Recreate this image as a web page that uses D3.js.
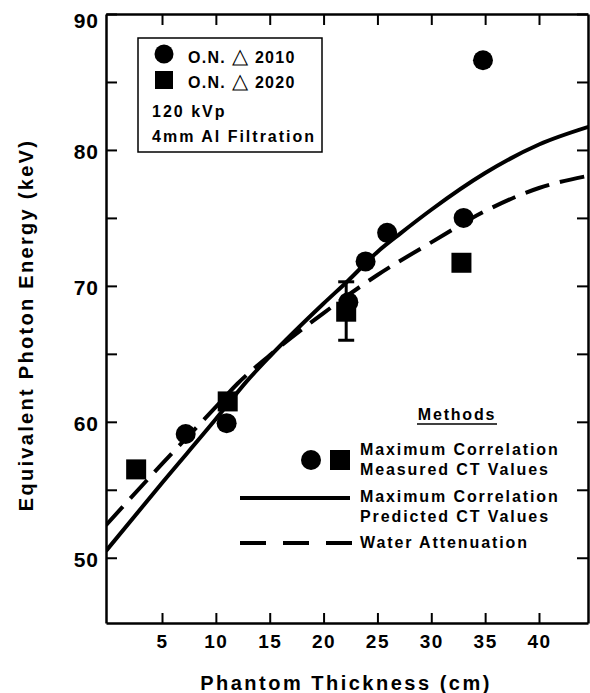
<!DOCTYPE html>
<html>
<head>
<meta charset="utf-8">
<script src="https://cdn.jsdelivr.net/npm/d3@7"></script>
<style>
  body { margin: 0; background: #fff; }
  text { font-family: "Liberation Sans", Arial, Helvetica, sans-serif; font-weight: bold; fill: #000; }
</style>
</head>
<body>
<div id="chart"></div>
<script>
// measured points
const circleX = [7.2, 11.0, 22.3, 23.9, 25.9, 33.0, 34.8];
const circleY = [59.1, 59.9, 68.8, 71.8, 73.9, 75.0, 86.6];
const squareX = [2.6, 11.1, 22.1, 32.8];
const squareY = [56.5, 61.5, 68.1, 71.7];
// error bar on the 22 cm square
const errX = [22.1];
const errLow = [66.0];
const errHigh = [70.3];

// max correlation, predicted CT values (solid)
const solidX = [-0.2, 5, 10, 13, 15, 20, 22.3, 25, 27.2, 30, 35, 40, 44.6];
const solidY = [50.5, 55.5, 60.2, 63.1, 64.8, 68.7, 70.4, 72.5, 73.9, 75.6, 78.3, 80.4, 81.7];
// water attenuation (dashed)
const dashX = [-0.2, 5, 10, 12, 15, 20, 25, 30, 35, 40, 44.6];
const dashY = [52.4, 56.9, 61.1, 62.8, 64.9, 68.0, 70.8, 73.2, 75.5, 77.2, 78.1];

const xTicks = [5, 10, 15, 20, 25, 30, 35, 40];
const yTicks = [50, 55, 60, 65, 70, 75, 80, 85, 90];

function drawChart() {
    const W = 590, H = 693;
    const left = 106, right = 588, top = 14, bottom = 623;

    const svg = d3.select("#chart")
        .append("svg")
        .attr("width", W)
        .attr("height", H);

    const x = d3.scaleLinear().domain([-0.2, 44.55]).range([left, right]);
    const y = d3.scaleLinear().domain([90, 45.2]).range([top, bottom]);

    svg.append("clipPath").attr("id", "plotClip")
        .append("rect")
        .attr("x", left).attr("y", top)
        .attr("width", right - left).attr("height", bottom - top);

    // axes, all ticks pointing inward
    const gLeft = svg.append("g")
        .attr("transform", `translate(${left},0)`)
        .call(d3.axisLeft(y).tickValues(yTicks).tickSizeInner(-11).tickSizeOuter(0).tickPadding(7)
            .tickFormat(d => d % 10 === 0 ? d : ""));
    gLeft.selectAll("text")
        .attr("font-size", 21)
        .attr("font-family", null)
        .style("letter-spacing", "1px")
        .attr("dy", d => d === 90 ? "0.66em" : "0.43em");

    const gBottom = svg.append("g")
        .attr("transform", `translate(0,${bottom})`)
        .call(d3.axisBottom(x).tickValues(xTicks).tickSizeInner(-10).tickSizeOuter(0).tickPadding(12));
    gBottom.selectAll("text")
        .attr("font-size", 19)
        .attr("font-family", null)
        .style("letter-spacing", "1.5px");

    svg.append("g")
        .attr("transform", `translate(0,${top})`)
        .call(d3.axisTop(x).tickValues(xTicks).tickSizeInner(-11).tickSizeOuter(0).tickFormat(""));

    svg.append("g")
        .attr("transform", `translate(${right},0)`)
        .call(d3.axisRight(y).tickValues(yTicks).tickSizeInner(-11).tickSizeOuter(0).tickFormat(""));

    svg.selectAll(".domain").attr("stroke", "#000").attr("stroke-width", 2.5);
    svg.selectAll(".tick line").attr("stroke", "#000").attr("stroke-width", 2);

    // curves
    const line = d3.line().x(d => x(d[0])).y(d => y(d[1])).curve(d3.curveMonotoneX);
    const plot = svg.append("g").attr("clip-path", "url(#plotClip)");

    plot.append("path")
        .datum(solidX.map((v, i) => [v, solidY[i]]))
        .attr("d", line)
        .attr("fill", "none")
        .attr("stroke", "#000")
        .attr("stroke-width", 4);

    plot.append("path")
        .datum(dashX.map((v, i) => [v, dashY[i]]))
        .attr("d", line)
        .attr("fill", "none")
        .attr("stroke", "#000")
        .attr("stroke-width", 4)
        .attr("stroke-dasharray", "25,11");

    // error bar
    errX.forEach((v, i) => {
        const cx = x(v);
        plot.append("line")
            .attr("x1", cx).attr("x2", cx)
            .attr("y1", y(errLow[i])).attr("y2", y(errHigh[i]))
            .attr("stroke", "#000").attr("stroke-width", 3);
        [errLow[i], errHigh[i]].forEach(e => {
            plot.append("line")
                .attr("x1", cx - 8).attr("x2", cx + 8)
                .attr("y1", y(e)).attr("y2", y(e))
                .attr("stroke", "#000").attr("stroke-width", 3);
        });
    });

    // markers
    plot.selectAll(".sq")
        .data(squareX.map((v, i) => [v, squareY[i]]))
        .join("rect")
        .attr("class", "sq")
        .attr("x", d => x(d[0]) - 10)
        .attr("y", d => y(d[1]) - 10)
        .attr("width", 20)
        .attr("height", 20)
        .attr("fill", "#000");

    plot.selectAll(".circ")
        .data(circleX.map((v, i) => [v, circleY[i]]))
        .join("circle")
        .attr("class", "circ")
        .attr("cx", d => x(d[0]))
        .attr("cy", d => y(d[1]))
        .attr("r", 10)
        .attr("fill", "#000");

    // top-left legend box
    svg.append("rect")
        .attr("x", 138).attr("y", 38)
        .attr("width", 184).attr("height", 114)
        .attr("fill", "#fff")
        .attr("stroke", "#000")
        .attr("stroke-width", 1.5);
    svg.append("circle").attr("cx", 164).attr("cy", 54).attr("r", 9.5).attr("fill", "#000");
    svg.append("rect").attr("x", 155).attr("y", 71).attr("width", 18).attr("height", 18).attr("fill", "#000");

    const seriesText = [
        {a: "O.N. ", b: "\u25B3", c: " 2010", y: 63},
        {a: "O.N. ", b: "\u25B3", c: " 2020", y: 88}
    ];
    const st = svg.selectAll(".seriesText")
        .data(seriesText)
        .join("text")
        .attr("class", "seriesText")
        .attr("x", 188)
        .attr("y", d => d.y)
        .attr("font-size", 16)
        .style("letter-spacing", "1.3px");
    st.append("tspan").text(d => d.a);
    st.append("tspan").attr("font-size", 21).attr("font-weight", "normal").text(d => d.b);
    st.append("tspan").text(d => d.c);

    const boxText = [
        {t: "120 kVp", y: 117},
        {t: "4mm Al Filtration", y: 142}
    ];
    svg.selectAll(".boxText")
        .data(boxText)
        .join("text")
        .attr("class", "boxText")
        .attr("x", 152)
        .attr("y", d => d.y)
        .attr("font-size", 16)
        .style("letter-spacing", "2px")
        .text(d => d.t);

    // methods legend
    svg.append("text")
        .attr("x", 457).attr("y", 420)
        .attr("text-anchor", "middle")
        .attr("font-size", 16)
        .style("letter-spacing", "1.8px")
        .text("Methods");
    svg.append("line")
        .attr("x1", 417).attr("x2", 497)
        .attr("y1", 424).attr("y2", 424)
        .attr("stroke", "#000").attr("stroke-width", 1.5);

    svg.append("circle").attr("cx", 311).attr("cy", 460).attr("r", 10).attr("fill", "#000");
    svg.append("rect").attr("x", 330).attr("y", 450).attr("width", 20).attr("height", 20).attr("fill", "#000");
    svg.append("line")
        .attr("x1", 240).attr("x2", 350).attr("y1", 498).attr("y2", 498)
        .attr("stroke", "#000").attr("stroke-width", 4);
    svg.append("line")
        .attr("x1", 240).attr("x2", 353).attr("y1", 543).attr("y2", 543)
        .attr("stroke", "#000").attr("stroke-width", 4)
        .attr("stroke-dasharray", "26,17");

    const methodText = [
        {t: "Maximum Correlation", y: 455},
        {t: "Measured CT Values", y: 475},
        {t: "Maximum Correlation", y: 502},
        {t: "Predicted CT Values", y: 522},
        {t: "Water Attenuation", y: 548}
    ];
    svg.selectAll(".methodText")
        .data(methodText)
        .join("text")
        .attr("class", "methodText")
        .attr("x", 360)
        .attr("y", d => d.y)
        .attr("font-size", 16)
        .style("letter-spacing", "1.9px")
        .text(d => d.t);

    // axis titles
    svg.append("text")
        .attr("x", 346)
        .attr("y", 690)
        .attr("text-anchor", "middle")
        .attr("font-size", 20)
        .style("letter-spacing", "2.5px")
        .text("Phantom Thickness (cm)");

    svg.append("text")
        .attr("transform", "translate(33,325) rotate(-90)")
        .attr("text-anchor", "middle")
        .attr("font-size", 20)
        .style("letter-spacing", "2.3px")
        .text("Equivalent Photon Energy (keV)");
}

drawChart();
</script>
</body>
</html>
